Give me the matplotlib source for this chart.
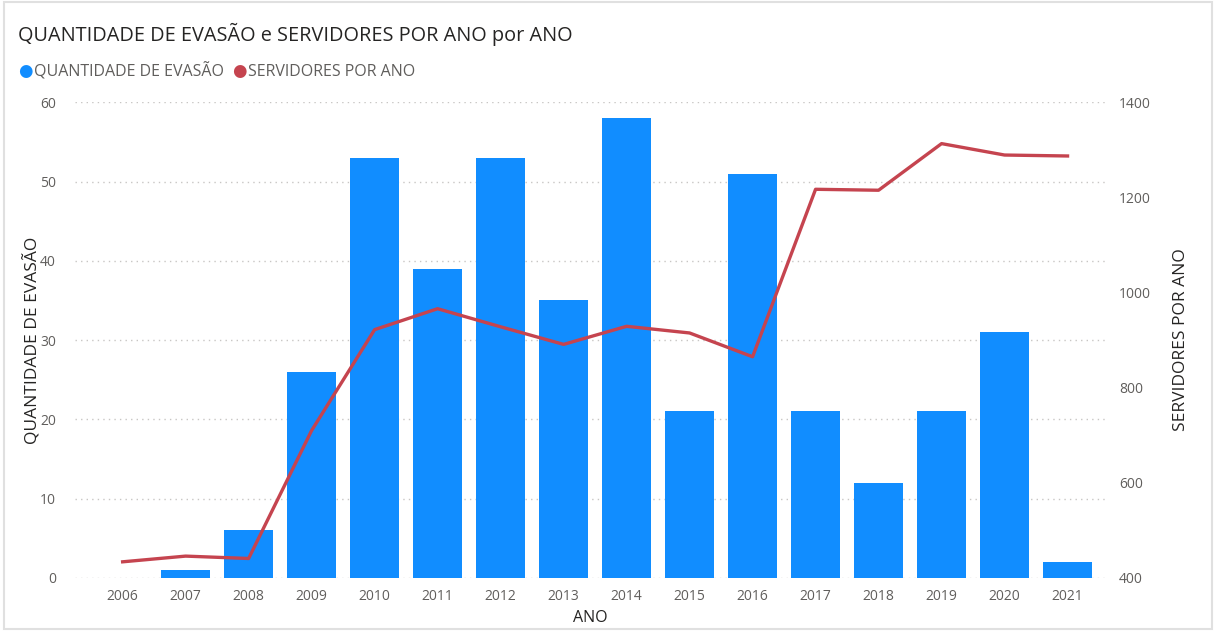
import matplotlib.pyplot as plt
from matplotlib.patches import Rectangle

# data
anos = ["2006", "2007", "2008", "2009", "2010", "2011", "2012", "2013",
        "2014", "2015", "2016", "2017", "2018", "2019", "2020", "2021"]
evasao = [0, 1, 6, 26, 53, 39, 53, 35, 58, 21, 51, 21, 12, 21, 31, 2]
servidores = [434, 446, 441, 710, 922, 966, 928, 891, 929, 915, 865,
              1217, 1215, 1313, 1289, 1287]

plt.rcParams['font.family'] = ['Open Sans', 'DejaVu Sans']

fig = plt.figure(figsize=(12.16, 6.31), dpi=100)
ax = fig.add_axes([0.062, 0.084, 0.847, 0.754])
ax2 = ax.twinx()

x = range(len(anos))
ax.bar(x, evasao, width=0.78, color='#118DFF', zorder=2)
ax2.plot(x, servidores, color='#C5444F', lw=2.4, zorder=3)

ax.set_xlim(-0.75, 15.6)
ax.set_ylim(0, 60)
ax2.set_ylim(400, 1400)
ax.set_xticks(list(x))
ax.set_xticklabels(anos)
ax.set_yticks(range(0, 61, 10))
ax2.set_yticks(range(400, 1401, 200))

ax.grid(axis='y', linestyle=(0, (1, 3)), color='#C8C6C4', lw=1, zorder=0)
for a in (ax, ax2):
    for s in a.spines.values():
        s.set_visible(False)
    a.tick_params(length=0, labelsize=10, labelcolor='#605E5C')
ax.tick_params(axis='y', pad=14)
ax2.tick_params(axis='y', pad=10)
ax.tick_params(axis='x', pad=8)

ax.set_xlabel('ANO', fontsize=11.5, color='#252423', labelpad=4)
ax.set_ylabel('QUANTIDADE DE EVASÃO', fontsize=12.5, color='#252423')
ax2.set_ylabel('SERVIDORES POR ANO', fontsize=12.5, color='#252423')
ax.yaxis.set_label_coords(-0.033, 0.5)
ax2.yaxis.set_label_coords(1.066, 0.5)

fig.text(0.015, 0.945, 'QUANTIDADE DE EVASÃO e SERVIDORES POR ANO por ANO',
         fontsize=14.3, color='#252423', va='center')

# legend
fig.text(0.015, 0.886, '●', fontsize=12, color='#118DFF', va='center')
fig.text(0.028, 0.886, 'QUANTIDADE DE EVASÃO', fontsize=11.5, color='#605E5C', va='center')
fig.text(0.191, 0.886, '●', fontsize=12, color='#C5444F', va='center')
fig.text(0.204, 0.886, 'SERVIDORES POR ANO', fontsize=11.5, color='#605E5C', va='center')

fig.patches.append(Rectangle((0.003, 0.003), 0.994, 0.994, transform=fig.transFigure,
                             fill=False, edgecolor='#E0E0E0', lw=1.5))

fig.savefig('out.png', dpi=100)
